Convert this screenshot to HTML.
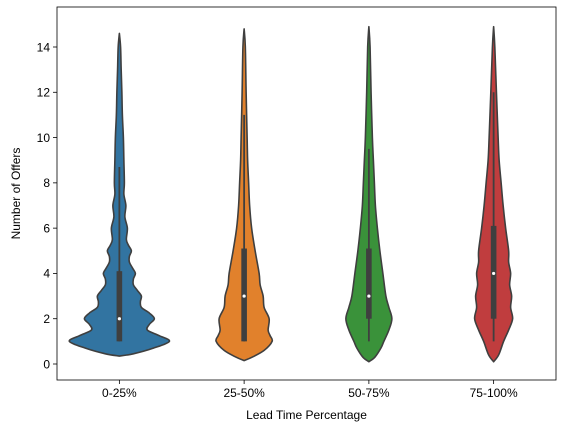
<!DOCTYPE html>
<html><head><meta charset="utf-8"><style>
body{margin:0;background:#fff;}
svg{display:block;font-family:"Liberation Sans","DejaVu Sans",sans-serif;}
</style></head><body>
<svg id="chart" width="562" height="432" viewBox="0 0 562 432">
<rect x="0" y="0" width="562" height="432" fill="#fff"/>
<g id="plot"></g>
<g id="axes"></g>
</svg>
<script>
const categories = ["0-25%","25-50%","50-75%","75-100%"];
const colors = ["#3274a1","#e1812c","#3a923a","#c03d3e"];
// density profiles: [value, half-width in px]
const profile0 = [[0.35,0],[0.45,14],[0.7,34],[1,50],[1.25,40],[1.5,28],[1.75,30],[2,35],[2.25,30],[2.5,22],[2.75,21],[3,22],[3.25,18],[3.5,14],[3.75,14],[4,16],[4.25,13],[4.5,10],[4.75,10],[5,12],[5.25,9],[5.5,7],[6,8],[6.5,5.5],[7,6.5],[7.5,4.5],[8,5],[9,4.5],[10,4],[11,3],[12,2.5],[13,1.8],[14,1.2],[14.6,0]];
const profile1 = [[0.15,0],[0.3,8],[0.6,20],[1,28],[1.25,26],[1.5,24],[2,25],[2.5,20],[3,19],[3.5,16],[4,15],[5,11],[6,7.5],[7,5.5],[8,4.5],[9,3.5],[10,3],[12,2],[14,1.2],[14.8,0]];
const profile2 = [[0.1,0],[0.3,6],[0.7,12],[1,15],[1.5,20],[2,23],[2.5,20],[3,17],[4,14],[5,11],[6,8.5],[7,6.5],[8,5.5],[9,4.5],[10,3.5],[12,2.2],[14,1.2],[14.9,0]];
const profile3 = [[0.1,0],[0.4,5],[1,10],[1.5,15],[2,19],[2.5,17],[3,18],[3.5,16],[4,17],[4.5,15],[5,15],[6,12],[7,9.5],[8,7.5],[9,5.5],[10,4.5],[12,2.8],[14,1.2],[14.9,0]];
const profiles = [profile0,profile1,profile2,profile3];
const q1 = [1,1,2,2];
const q3 = [4.1,5.1,5.1,6.1];
const medians = [2,3,3,4];
const whiskLow = [1,1,1,1];
const whiskHigh = [8.7,11,9.5,12];
const yTicks = [0,2,4,6,8,10,12,14];

const L=57,R=556,T=7,B=380;
const y0px=364, perUnit=(364-47)/14;
const yScale=v=>y0px-v*perUnit;
const band=(R-L)/categories.length;
const xScale=i=>L+band*(i+0.5);
const NS="http://www.w3.org/2000/svg";
const plot=document.getElementById('plot'), axes=document.getElementById('axes');
function mk(tag,attrs,parent){const e=document.createElementNS(NS,tag);for(const k in attrs)e.setAttribute(k,attrs[k]);parent.appendChild(e);return e;}
function smooth(pts){
  let d="";
  for(let i=0;i<pts.length-1;i++){
    const p0=pts[i-1]||pts[i],p1=pts[i],p2=pts[i+1],p3=pts[i+2]||p2;
    const c1=[p1[0]+(p2[0]-p0[0])/6,p1[1]+(p2[1]-p0[1])/6];
    const c2=[p2[0]-(p3[0]-p1[0])/6,p2[1]-(p3[1]-p1[1])/6];
    d+="C"+c1[0]+","+c1[1]+" "+c2[0]+","+c2[1]+" "+p2[0]+","+p2[1];
  }
  return d;
}

categories.forEach((c,i)=>{
  const cx=xScale(i), p=profiles[i];
  const right=p.map(q=>[cx+q[1],yScale(q[0])]);
  const left=p.slice().reverse().map(q=>[cx-q[1],yScale(q[0])]);
  let d="M"+right[0][0]+","+right[0][1]+smooth(right)+"L"+left[0][0]+","+left[0][1]+smooth(left)+"Z";
  const v=mk('path',{d:d,fill:colors[i],stroke:"#3f3f3f","stroke-width":1.6,"stroke-linejoin":"round"},plot);
  
  
  const w=mk('line',{x1:cx,x2:cx,y1:yScale(whiskLow[i]),y2:yScale(whiskHigh[i]),stroke:"#3f3f3f","stroke-width":1.8},plot);
  
  
  const b=mk('rect',{x:cx-2.8,y:yScale(q3[i]),width:5.6,height:yScale(q1[i])-yScale(q3[i]),fill:"#3f3f3f"},plot);
  
  
  const m=mk('circle',{cx:cx,cy:yScale(medians[i]),r:1.6,fill:"#fff"},plot);
  
  
  const t=mk('line',{x1:cx,x2:cx,y1:B,y2:B+4,stroke:"#000","stroke-width":0.8},axes);
  
  
  const tl=mk('text',{x:cx,y:B+17,"font-size":12,"text-anchor":"middle",fill:"#000"},axes);
  tl.textContent=c;
  
  
});
yTicks.forEach(v=>{
  const y=yScale(v);
  const t=mk('line',{x1:L-4,x2:L,y1:y,y2:y,stroke:"#000","stroke-width":0.8},axes);
  
  
  const tl=mk('text',{x:L-7,y:y+4.3,"font-size":12,"text-anchor":"end",fill:"#000"},axes);
  tl.textContent=v;
  
  
});
const fr=mk('rect',{x:L,y:T,width:R-L,height:B-T,fill:"none",stroke:"#000","stroke-width":0.8},axes);


const xt=mk('text',{x:(L+R)/2,y:419,"font-size":12,"text-anchor":"middle",fill:"#000"},axes);
xt.textContent="Lead Time Percentage";


const yt=mk('text',{x:0,y:0,"font-size":12,"text-anchor":"middle",fill:"#000",transform:"translate(20,"+((T+B)/2)+") rotate(-90)"},axes);
yt.textContent="Number of Offers";


</script>
</body></html>
